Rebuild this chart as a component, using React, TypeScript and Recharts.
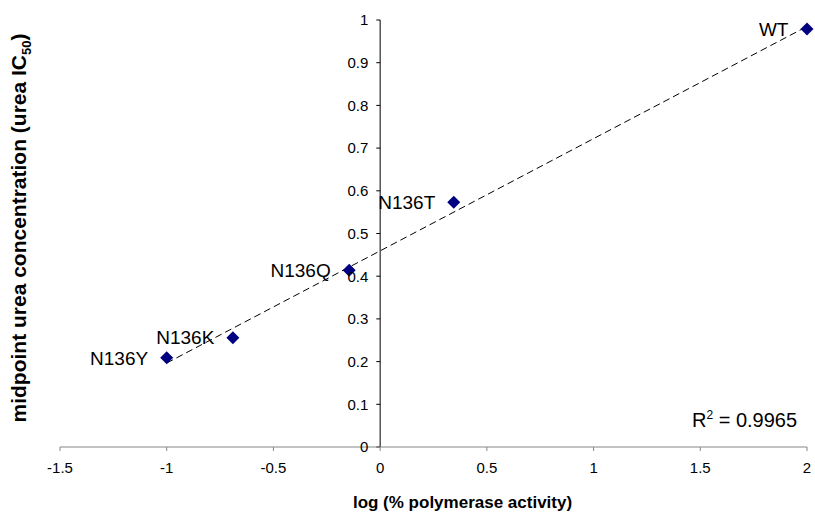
import { ScatterChart, Scatter, XAxis, YAxis, ZAxis, ReferenceLine, LabelList } from 'recharts';

const names = ['N136Y', 'N136K', 'N136Q', 'N136T', 'WT'];
const logActivity = [-1, -0.69, -0.145, 0.345, 2];
const ic50 = [0.209, 0.256, 0.414, 0.573, 0.979];

const xTicks = [-1.5, -1, -0.5, 0, 0.5, 1, 1.5, 2];
const yTicks = [0, 0.1, 0.2, 0.3, 0.4, 0.5, 0.6, 0.7, 0.8, 0.9, 1];
const rSquared = '0.9965';

const FONT = 'Arial, "Liberation Sans", sans-serif';

const points = names.map((name, i) => ({ name, x: logActivity[i], y: ic50[i] }));

// least squares trendline (like Excel's linear trendline)
function fitLine(xs: number[], ys: number[]) {
    const n = xs.length;
    const mx = xs.reduce((a, b) => a + b, 0) / n;
    const my = ys.reduce((a, b) => a + b, 0) / n;
    let sxy = 0, sxx = 0;
    for (let i = 0; i < n; i++) {
        sxy += (xs[i] - mx) * (ys[i] - my);
        sxx += (xs[i] - mx) ** 2;
    }
    const slope = sxy / sxx;
    return { slope, intercept: my - slope * mx };
}
const fit = fitLine(logActivity, ic50);
const xMin = Math.min(...logActivity);
const xMax = Math.max(...logActivity);
const trend = [xMin, xMax].map(x => ({ x, y: fit.intercept + fit.slope * x }));

const Diamond = (props: any) => {
    const { cx, cy } = props;
    const r = 6.5;
    return <polygon points={`${cx},${cy - r} ${cx + r},${cy} ${cx},${cy + r} ${cx - r},${cy}`} fill="#000080" />;
};

export default function App() {
    return (
        <div style={{ position: 'absolute', left: 0, top: 0, width: 815, height: 512, background: '#fff', fontFamily: FONT }}>
            <ScatterChart width={815} height={512} margin={{ top: 20, right: 8, left: 60, bottom: 20 }}>
                <XAxis type="number" dataKey="x" domain={[-1.5, 2]} ticks={xTicks} interval={0}
                    tickFormatter={(v) => String(v)}
                    axisLine={{ stroke: '#868686' }} tickLine={{ stroke: '#868686' }} tickSize={4} tickMargin={11}
                    tick={{ fontSize: 15, fill: '#000', fontFamily: FONT }} height={45}
                    label={{ value: 'log (% polymerase activity)', position: 'bottom', offset: 4, dx: 29,
                        style: { fontSize: 17, fontWeight: 'bold', fill: '#000', fontFamily: FONT } }} />
                <YAxis type="number" dataKey="y" domain={[0, 1]} hide />
                <ZAxis range={[64, 64]} />
                <ReferenceLine segment={[{ x: 0, y: 0 }, { x: 0, y: 1 }]} stroke="#000" strokeWidth={1} />
                {yTicks.map(v => (
                    <ReferenceLine key={v} segment={[{ x: -0.018, y: v }, { x: 0, y: v }]} stroke="#000"
                        label={{ value: String(v), position: 'left', offset: 8,
                            style: { fontSize: 15, fill: '#000', fontFamily: FONT } }} />
                ))}
                <Scatter data={trend} line={{ stroke: '#000', strokeWidth: 1, strokeDasharray: '7 4' }}
                    shape={() => <g />} isAnimationActive={false} />
                <Scatter data={points} shape={Diamond} isAnimationActive={false}>
                    <LabelList dataKey="name" position="left" offset={14}
                        style={{ fontSize: 19, fill: '#000', fontFamily: FONT }} />
                </Scatter>
            </ScatterChart>
            <div style={{
                position: 'absolute', left: 19 - 220, top: 228 - 13, width: 440, height: 26, lineHeight: '26px',
                transform: 'rotate(-90deg)', textAlign: 'center', fontSize: 21, fontWeight: 'bold', whiteSpace: 'nowrap',
            }}>
                midpoint urea concentration (urea IC<sub style={{ fontSize: 13, verticalAlign: 'sub', lineHeight: 0 }}>50</sub>)
            </div>
            <div style={{ position: 'absolute', left: 692, top: 409, fontSize: 20, lineHeight: '22px', whiteSpace: 'nowrap' }}>
                R<sup style={{ fontSize: 12, verticalAlign: 'super', lineHeight: 0 }}>2</sup> = {rSquared}
            </div>
        </div>
    );
}
